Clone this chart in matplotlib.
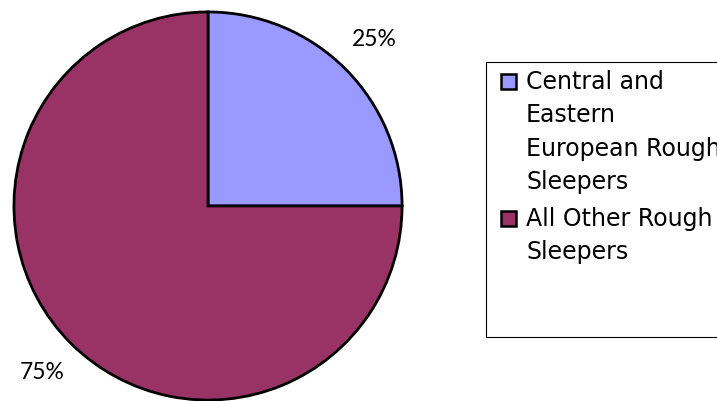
import matplotlib
matplotlib.use("Agg")
import matplotlib.pyplot as plt
from matplotlib.patches import Rectangle

# Rough sleepers split by origin
labels = ["Central and\nEastern\nEuropean Rough\nSleepers", "All Other Rough\nSleepers"]
shares = [25, 75]
colors = ["#9999FF", "#993366"]

W, H = 717, 401
fig = plt.figure(figsize=(W / 100, H / 100), dpi=100)

# pie axes placed in pixel units: centre (208, 206), radius 196
cx, cy, r = 208, 206, 196
ax = fig.add_axes([(cx - r) / W, (H - cy - r) / H, 2 * r / W, 2 * r / H])
wedges, texts, autotexts = ax.pie(
    shares, colors=colors, startangle=90, counterclock=False,
    autopct="%d%%", pctdistance=1.21, radius=1,
    wedgeprops=dict(edgecolor="black", linewidth=2),
    textprops=dict(fontsize=16.5, family="Lato", color="black"))
ax.set_xlim(-1.01, 1.01)
ax.set_ylim(-1.01, 1.01)
ax.set_aspect("equal")

# legend box, drawn by hand so it keeps its empty lower part
fig.patches.append(Rectangle((486 / W, 1 - 337 / H), 240 / W, 275 / H,
                             transform=fig.transFigure, facecolor="white",
                             edgecolor="black", linewidth=0.8))
entry_mid = [82, 219]
for lab, col, y in zip(labels, colors, entry_mid):
    fig.patches.append(Rectangle((501 / W, 1 - (y + 7) / H), 15 / W, 15 / H,
                                 transform=fig.transFigure, facecolor=col,
                                 edgecolor="black", linewidth=1.8))
    fig.text(526 / W, 1 - (y - 12) / H, lab, fontsize=17, family="DejaVu Sans",
             va="top", ha="left", linespacing=1.5)

fig.savefig("out.png", dpi=100)
